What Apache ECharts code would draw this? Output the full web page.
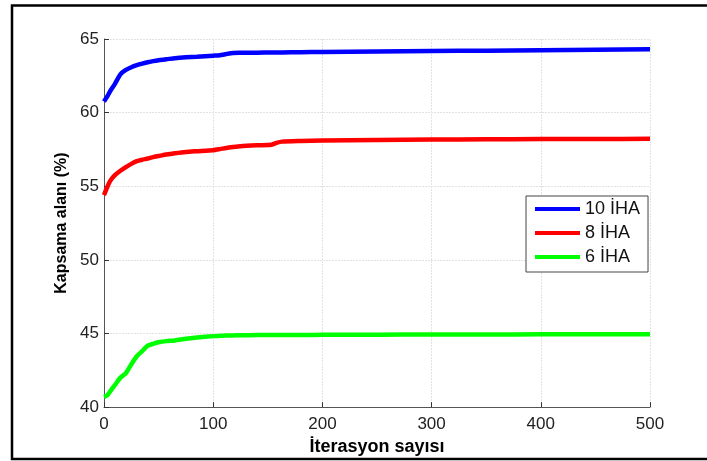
<!DOCTYPE html>
<html>
<head>
<meta charset="utf-8">
<script src="https://cdn.jsdelivr.net/npm/echarts@6/dist/echarts.min.js"></script>
<style>
  html, body { margin: 0; padding: 0; background: #fff; }
  #chart { width: 707px; height: 461px; }
</style>
</head>
<body>
<div id="chart"></div>
<script>
// iterasyon noktalari (ortak x ekseni)
const iterations = [0, 3, 6, 10, 15, 20, 25, 30, 35, 40, 45, 50, 57, 65, 75, 85, 100, 106, 112, 118, 125, 140, 153, 158, 163, 180, 200, 250, 300, 350, 400, 450, 500];

// kapsama alani (%) degerleri
const iha10 = [60.75, 61.1, 61.5, 61.95, 62.6, 62.9, 63.08, 63.22, 63.33, 63.42, 63.5, 63.56, 63.62, 63.7, 63.76, 63.8, 63.87, 63.9, 63.98, 64.05, 64.06, 64.07, 64.08, 64.08, 64.09, 64.1, 64.12, 64.15, 64.18, 64.21, 64.24, 64.27, 64.3];
const iha8 = [54.4, 54.95, 55.4, 55.75, 56.05, 56.3, 56.52, 56.7, 56.8, 56.88, 56.98, 57.05, 57.15, 57.24, 57.33, 57.38, 57.45, 57.52, 57.6, 57.66, 57.72, 57.78, 57.82, 57.95, 58.03, 58.07, 58.1, 58.14, 58.17, 58.19, 58.2, 58.21, 58.22];
const iha6 = [40.7, 40.8, 41.1, 41.5, 42.0, 42.3, 42.9, 43.45, 43.8, 44.17, 44.3, 44.4, 44.48, 44.53, 44.64, 44.72, 44.82, 44.84, 44.86, 44.87, 44.88, 44.89, 44.89, 44.9, 44.9, 44.9, 44.91, 44.92, 44.93, 44.93, 44.94, 44.94, 44.95];

const seriesNames = ["10 İHA", "8 İHA", "6 İHA"];
const seriesColors = ["#0000ff", "#ff0000", "#00ff00"];

const font = "'Liberation Sans', Arial, sans-serif";
const pairs = (vals) => iterations.map((x, i) => [x, vals[i]]);

const chart = echarts.init(document.getElementById("chart"));
chart.setOption({
  animation: false,
  textStyle: { fontFamily: font },
  grid: { left: 104, top: 39, right: 57, bottom: 52 },
  xAxis: {
    type: "value",
    min: 0,
    max: 500,
    interval: 100,
    name: "İterasyon sayısı",
    nameLocation: "middle",
    nameGap: 17,
    nameTextStyle: { fontFamily: font, fontWeight: "bold", fontSize: 18, color: "#000" },
    axisLine: { lineStyle: { color: "#555", width: 1 } },
    axisTick: { inside: true, length: 5, lineStyle: { color: "#333" } },
    axisLabel: { fontFamily: font, fontSize: 17, color: "#222", margin: 9 },
    splitLine: { show: true, lineStyle: { color: "#e2e2e2", type: [2, 1] } }
  },
  yAxis: {
    type: "value",
    min: 40,
    max: 65,
    interval: 5,
    name: "Kapsama alanı (%)",
    nameLocation: "middle",
    nameGap: 34,
    nameTextStyle: { fontFamily: font, fontWeight: "bold", fontSize: 16, color: "#000" },
    axisLine: { show: true, lineStyle: { color: "#555", width: 1 } },
    axisTick: { show: true, inside: true, length: 5, lineStyle: { color: "#333" } },
    axisLabel: { fontFamily: font, fontSize: 17, color: "#222", margin: 5 },
    splitLine: { show: true, lineStyle: { color: "#e2e2e2", type: [2, 1] } }
  },
  legend: {
    orient: "vertical",
    left: 526,
    top: 196,
    data: seriesNames.map((n) => ({ name: n, icon: "rect" })),
    itemWidth: 45,
    itemHeight: 4,
    itemGap: 6,
    padding: [4, 8, 6, 9],
    backgroundColor: "#fff",
    borderColor: "#444",
    borderWidth: 1,
    textStyle: { fontFamily: font, fontSize: 18, color: "#111", lineHeight: 18 }
  },
  graphic: [{
    type: "rect",
    shape: { x: 12, y: 5.5, width: 760, height: 453.5 },
    style: { fill: null, stroke: "#000", lineWidth: 2.5 },
    silent: true
  }],
  series: [iha10, iha8, iha6].map((vals, i) => ({
    name: seriesNames[i],
    type: "line",
    data: pairs(vals),
    symbol: "none",
    smooth: 0.2,
    color: seriesColors[i],
    lineStyle: { width: 4.5, color: seriesColors[i] },
    z: 3
  }))
});
</script>
</body>
</html>
